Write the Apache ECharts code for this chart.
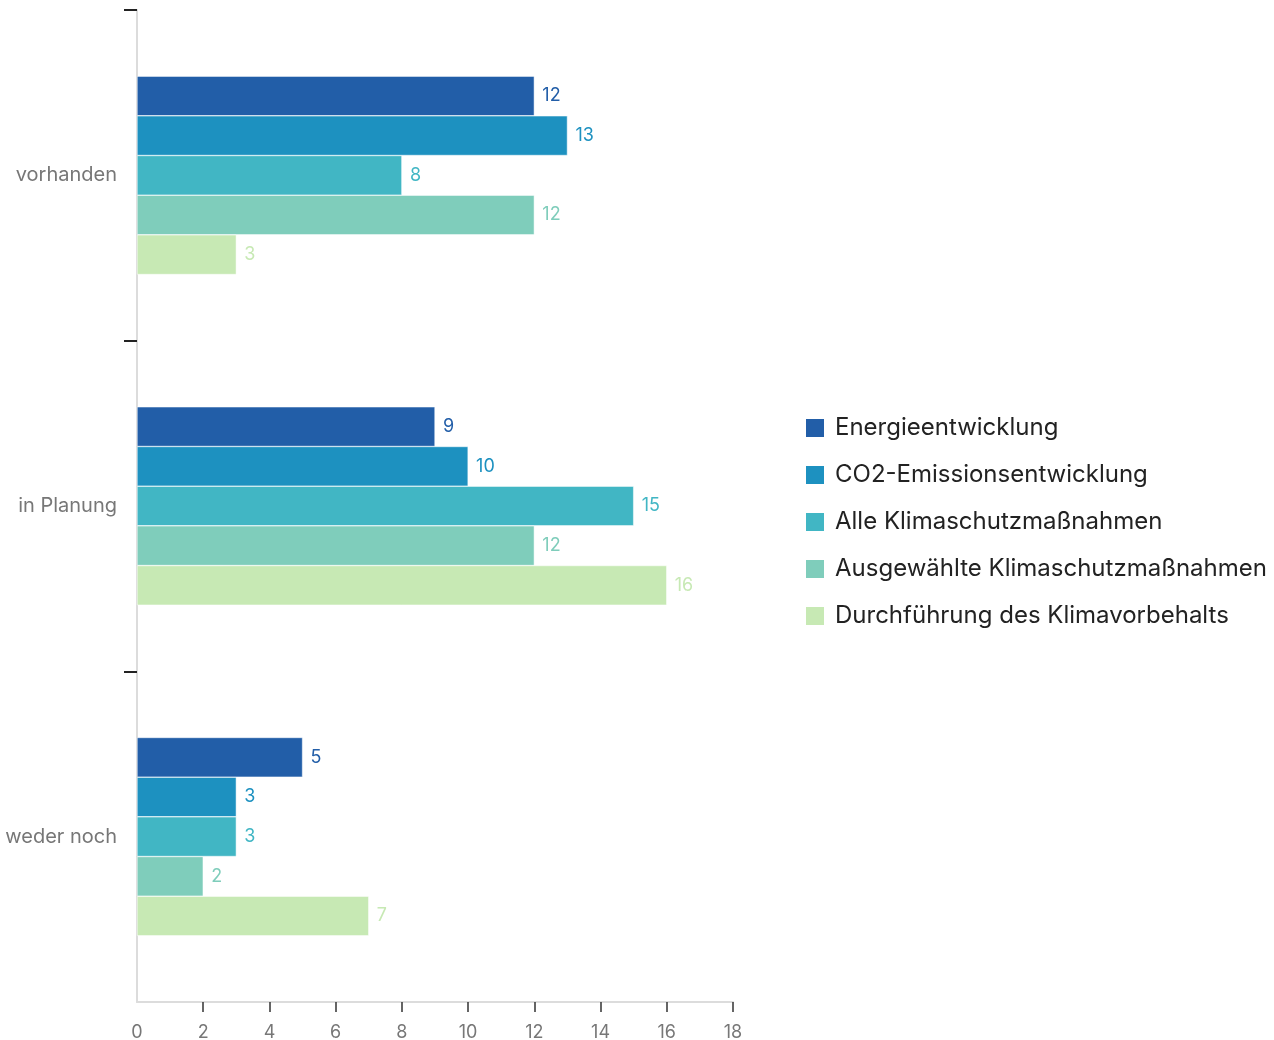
<!DOCTYPE html>
<html>
<head>
<meta charset="utf-8">
<script src="https://cdn.jsdelivr.net/npm/echarts@6/dist/echarts.min.js"></script>
<style>html,body{margin:0;padding:0;background:#fff}#c{width:1274px;height:1040px}</style>
</head>
<body>
<div id="c"></div>
<script>
const categories = ['vorhanden', 'in Planung', 'weder noch'];
const seriesNames = ['Energieentwicklung', 'CO2-Emissionsentwicklung', 'Alle Klimaschutzmaßnahmen', 'Ausgewählte Klimaschutzmaßnahmen', 'Durchführung des Klimavorbehalts'];
const energie = [12, 9, 5];
const co2 = [13, 10, 3];
const alle = [8, 15, 3];
const ausgewaehlt = [12, 12, 2];
const klimavorbehalt = [3, 16, 7];
const xTicks = [0, 2, 4, 6, 8, 10, 12, 14, 16, 18];
const colors = ['#225ea8', '#1d91c0', '#41b6c4', '#7fcdbb', '#c7e9b4'];
const values = [energie, co2, alle, ausgewaehlt, klimavorbehalt];

const font = 'Inter, "Noto Sans", sans-serif';
const chart = echarts.init(document.getElementById('c'));
chart.setOption({
  animation: false,
  color: colors,
  grid: { left: 137, right: 541, top: 10, bottom: 38, containLabel: false, outerBoundsMode: 'none' },
  legend: {
    orient: 'vertical', left: 804, top: 416, padding: 0,
    itemWidth: 20, itemHeight: 20, itemGap: 23,
    icon: 'rect',
    textStyle: { fontFamily: font, fontSize: 24, color: '#222', padding: [0, 0, 0, 5] },
    data: seriesNames
  },
  xAxis: {
    type: 'value', min: xTicks[0], max: xTicks[xTicks.length - 1], interval: 2,
    axisLine: { show: true, onZero: false, lineStyle: { color: '#dcdcdc', width: 2 } },
    axisTick: { show: true, length: 10, customValues: xTicks.slice(1), lineStyle: { color: '#333', width: 1.5 } },
    splitLine: { show: false },
    axisLabel: { fontFamily: font, fontSize: 18, color: '#777', margin: 22 }
  },
  yAxis: [{
    type: 'category', data: categories, inverse: true,
    axisLine: { show: true, lineStyle: { color: '#dcdcdc', width: 2 } },
    axisTick: { show: false },
    axisLabel: { fontFamily: font, fontSize: 20, color: '#777', margin: 20 }
  }, {
    type: 'value', min: 0, max: categories.length, interval: 1, inverse: true, position: 'left',
    axisLine: { show: false },
    axisLabel: { show: false },
    splitLine: { show: false },
    axisTick: { show: true, length: 13, customValues: categories.map((c, i) => i), lineStyle: { color: '#222', width: 2 } }
  }],
  series: seriesNames.map((n, i) => ({
    name: n, type: 'bar', data: values[i], yAxisIndex: 0,
    barGap: '0%', barCategoryGap: '40%',
    itemStyle: { color: colors[i], borderColor: '#fff', borderWidth: 0.5 },
    label: { show: true, position: 'right', distance: 8, color: colors[i], fontFamily: font, fontSize: 18 }
  }))
});
</script>
</body>
</html>
